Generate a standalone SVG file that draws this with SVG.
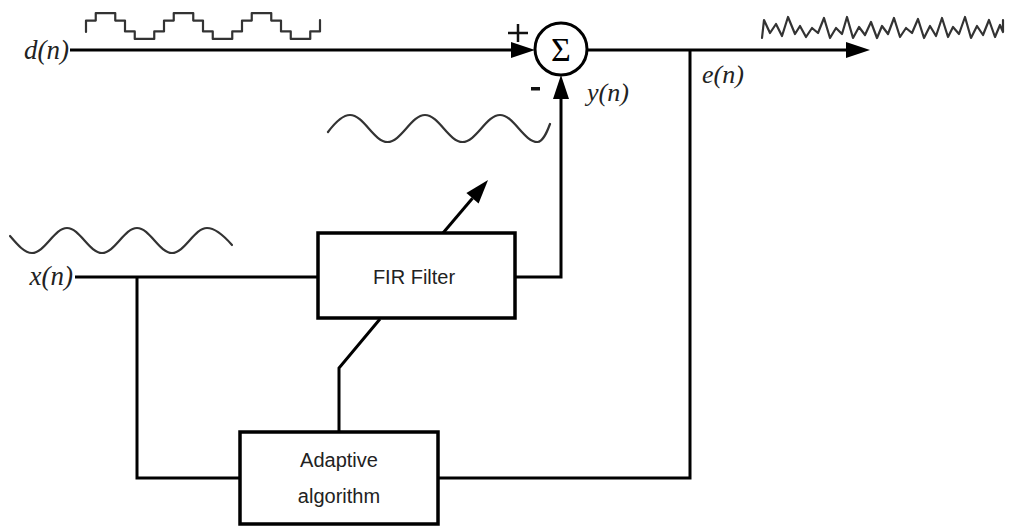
<svg xmlns="http://www.w3.org/2000/svg" width="1009" height="529" viewBox="0 0 1009 529">
  <style>
    .ln { fill: none; stroke: #000; stroke-width: 3; stroke-linejoin: miter; }
    .box { fill: #fff; stroke: #000; stroke-width: 3.5; }
    .wave { fill: none; stroke: #333; stroke-width: 2.2; stroke-linejoin: round; stroke-linecap: round; }
    .sig { font-family: "Liberation Serif", "Times New Roman", serif; font-style: italic; fill: #222; }
    .lbl { font-family: "Liberation Sans", Arial, sans-serif; font-size: 20px; fill: #222; text-anchor: middle; }
  </style>
  <defs>
    <marker id="ah" markerUnits="userSpaceOnUse" markerWidth="26" markerHeight="18" refX="0" refY="8" orient="auto" overflow="visible">
      <path d="M0,0 L24,8 L0,16 Z" fill="#000"/>
    </marker>
  </defs>
  <rect width="1009" height="529" fill="#fff"/>

  <!-- waveforms -->
  <g id="waves">
    <path class="wave" d="M86,32 V20.6 H95.75 V13.1 H115.25 V20.6 H125 V31.4 H134.75 V38.9 H154.25 V31.4 H164 V20.6 H173.75 V13.1 H193.25 V20.6 H203 V31.4 H212.75 V38.9 H232.25 V31.4 H242 V20.6 H251.75 V13.1 H271.25 V20.6 H281 V31.4 H290.75 V38.9 H310.25 V31.4 H320 V20"/>
    <path class="wave" d="M10,236 C16,243 24,253 32,253 C44.7,253 54.3,228 67,228 C79.7,228 89.3,253 102,253 C114.7,253 124.3,228 137,228 C149.7,228 159.3,253 172,253 C184.7,253 194.3,228 207,228 C216,228 225,237 232,245"/>
    <path class="wave" d="M328,132 C334,124 342,115 350,115 C363.6,115 373.9,142 387.5,142 C401.1,142 411.4,115 425,115 C438.6,115 448.9,142 462.5,142 C476.1,142 486.4,115 500,115 C513.6,115 523.9,142 537.5,142 C543,142 547,132 550,124"/>
    <polyline class="wave" points="762,38 764,20 770,33 776,24 782,36 788,17 795,34 800,26 806,37 812,28 818,33 824,18 830,38 836,28 842,34 847,17 853,38 859,27 865,35 871,22 877,38 882,26 888,34 894,18 900,37 906,28 912,33 918,19 924,38 930,26 936,36 942,18 948,37 953,27 959,34 965,17 971,38 977,26 983,35 989,20 995,37 1000,25 1003,32 1003,20"/>
  </g>

  <!-- connectors -->
  <g id="connectors">
    <path class="ln" d="M70,50 H511" marker-end="url(#ah)"/>
    <path class="ln" d="M587,50 H846" marker-end="url(#ah)"/>
    <path class="ln" d="M515,277 H561 V99" marker-end="url(#ah)"/>
    <path class="ln" d="M75,277 H318"/>
    <path class="ln" d="M137,277 V478 H240"/>
    <path class="ln" d="M690,50 V478 H438"/>
    <path class="ln" d="M339,432 V368 L380,319"/>
    <path class="ln" d="M443,233 L472.5,198.3" marker-end="url(#ah)"/>
  </g>

  <!-- nodes -->
  <g id="sum">
    <circle cx="561" cy="49" r="26" fill="#fff" stroke="#000" stroke-width="3"/>
    <text x="561" y="61" font-family="Liberation Serif, Times New Roman, serif" font-size="34" text-anchor="middle" fill="#000">Σ</text>
  </g>
  <g id="fir">
    <rect class="box" x="318" y="233" width="197" height="85"/>
    <text class="lbl" x="414" y="284" font-size="22">FIR Filter</text>
  </g>
  <g id="adaptive">
    <rect class="box" x="240" y="432" width="198" height="92"/>
    <text class="lbl" x="339" y="467">Adaptive</text>
    <text class="lbl" x="339" y="503">algorithm</text>
  </g>

  <!-- labels -->
  <g id="labels">
    <text class="sig" x="69" y="59" font-size="27" text-anchor="end">d(n)</text>
    <text class="sig" x="73" y="285" font-size="27" text-anchor="end">x(n)</text>
    <text class="sig" x="587" y="101" font-size="26">y(n)</text>
    <text class="sig" x="702" y="83" font-size="26">e(n)</text>
    <path d="M508,33 H528 M518,24 V42" stroke="#111" stroke-width="2.5" fill="none"/>
    <rect x="531" y="87" width="9" height="3.5" fill="#111"/>
  </g>
</svg>
